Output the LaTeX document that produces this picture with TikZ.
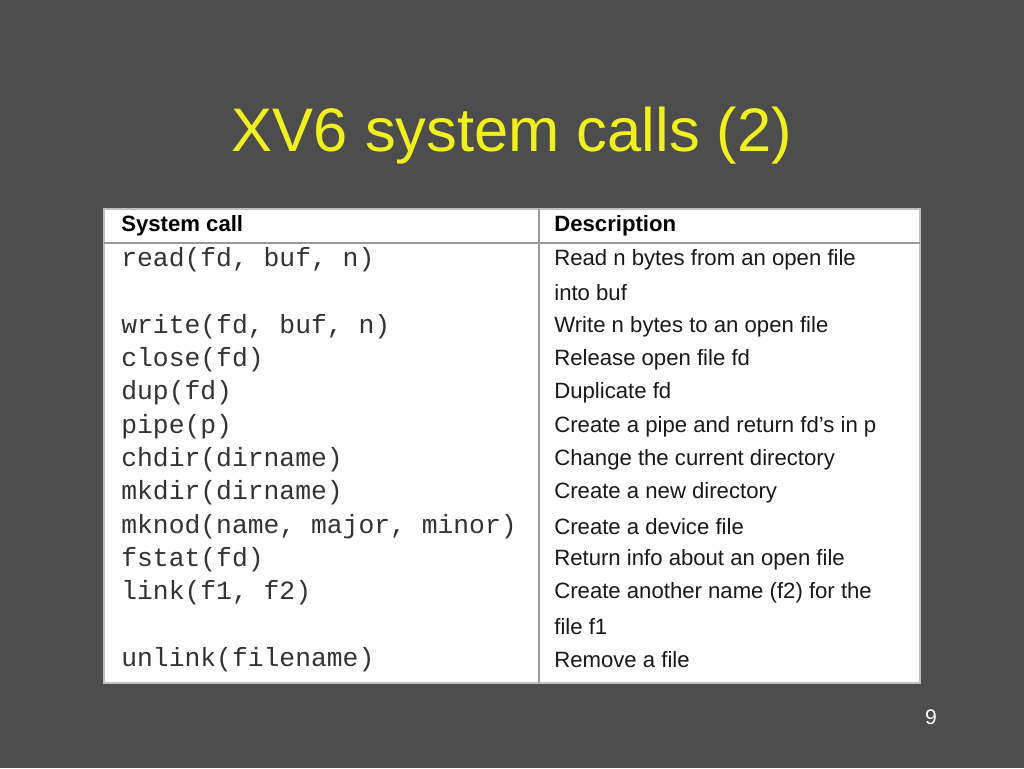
\documentclass[tikz,border=0pt]{standalone}
\usepackage{fontspec}
\setmainfont{Liberation Sans}
\setmonofont{Liberation Mono}
\usetikzlibrary{positioning}
\definecolor{slidebg}{RGB}{77,77,77}
\definecolor{titleyellow}{RGB}{240,240,30}
\tikzset{
  callcell/.style={anchor=west,inner sep=0pt,font=\fontsize{15}{15}\ttfamily,text=black!80},
  desccell/.style={anchor=west,inner sep=0pt,font=\fontsize{12.6}{14}\selectfont,text=black!90},
  headcell/.style={anchor=west,inner sep=0pt,font=\fontsize{12.6}{14}\bfseries}
}
\begin{document}
\begin{tikzpicture}[x=0.02cm,y=-0.02cm]
\fill[slidebg] (0,0) rectangle (1024,768);
\node[font=\fontsize{35}{40}\selectfont,text=titleyellow] (title) at (512,136) {XV6 system calls (2)};
\draw[fill=white,draw=black!25,line width=1pt] (104,209) rectangle (920,683);
\draw[black!40,line width=0.8pt] (539,209) -- (539,683);
\draw[black!40,line width=0.8pt] (104,243) -- (920,243);
\node[headcell] (h1) at (121,226) {System call};
\node[headcell] (h2) at (554,226) {Description};
% rows
\node[callcell] (c1) at (121,260) {read(fd, buf, n)};
\node[desccell] (d1) at (554,260) {Read n bytes from an open file};
\node[desccell] (d1b) at (554,293) {into buf};
\node[callcell] (c2) at (121,327) {write(fd, buf, n)};
\node[desccell] (d2) at (554,327) {Write n bytes to an open file};
\node[callcell] (c3) at (121,360) {close(fd)};
\node[desccell] (d3) at (554,360) {Release open file fd};
\node[callcell] (c4) at (121,393) {dup(fd)};
\node[desccell] (d4) at (554,393) {Duplicate fd};
\node[callcell] (c5) at (121,427) {pipe(p)};
\node[desccell] (d5) at (554,427) {Create a pipe and return fd’s in p};
\node[callcell] (c6) at (121,460) {chdir(dirname)};
\node[desccell] (d6) at (554,460) {Change the current directory};
\node[callcell] (c7) at (121,493) {mkdir(dirname)};
\node[desccell] (d7) at (554,493) {Create a new directory};
\node[callcell] (c8) at (121,527) {mknod(name, major, minor)};
\node[desccell] (d8) at (554,527) {Create a device file};
\node[callcell] (c9) at (121,560) {fstat(fd)};
\node[desccell] (d9) at (554,560) {Return info about an open file};
\node[callcell] (c10) at (121,593) {link(f1, f2)};
\node[desccell] (d10) at (554,593) {Create another name (f2) for the};
\node[desccell] (d10b) at (554,627) {file f1};
\node[callcell] (c11) at (121,660) {unlink(filename)};
\node[desccell] (d11) at (554,660) {Remove a file};
\node[font=\fontsize{12}{14}\selectfont,text=white] (page) at (931,717) {9};
\end{tikzpicture}
\end{document}
